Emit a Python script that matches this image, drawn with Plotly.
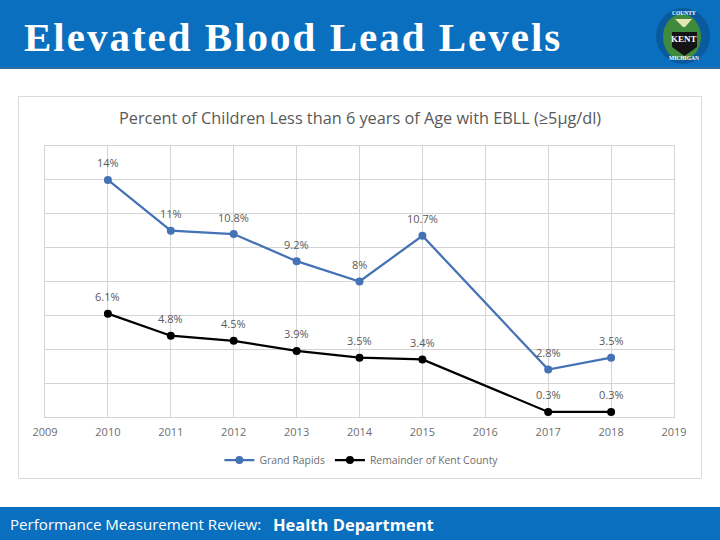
import plotly.graph_objects as go

years_gr = [2010, 2011, 2012, 2013, 2014, 2015, 2017, 2018]
grand_rapids = [14, 11, 10.8, 9.2, 8, 10.7, 2.8, 3.5]
gr_labels = ["14%", "11%", "10.8%", "9.2%", "8%", "10.7%", "2.8%", "3.5%"]
years_rem = [2010, 2011, 2012, 2013, 2014, 2015, 2017, 2018]
remainder = [6.1, 4.8, 4.5, 3.9, 3.5, 3.4, 0.3, 0.3]
rem_labels = ["6.1%", "4.8%", "4.5%", "3.9%", "3.5%", "3.4%", "0.3%", "0.3%"]

L, R, T, B = 45, 674, 146, 417
W, H = 720, 540
def px(x): return (x - L) / (R - L)
def py(y): return (B - y) / (B - T)

BLUE = "#0A6FBE"
GRID = "#D4D4D4"
TXT = "#595959"

fig = go.Figure()
fig.add_trace(go.Scatter(x=years_gr, y=grand_rapids, name="Grand Rapids", mode="lines+markers",
    line=dict(color="#4472B4", width=2.25), marker=dict(color="#4472B4", size=8), cliponaxis=False))
fig.add_trace(go.Scatter(x=years_rem, y=remainder, name="Remainder of Kent County", mode="lines+markers",
    line=dict(color="#000000", width=2.25), marker=dict(color="#000000", size=8), cliponaxis=False))

def rect(x0, y0, x1, y1, fill, line=None, lw=1):
    return dict(type="rect", xref="paper", yref="paper", x0=px(x0), x1=px(x1), y0=py(y0), y1=py(y1),
                fillcolor=fill, line=dict(color=line or fill, width=lw if line else 0), layer="below")
def oval(cx, cy, rx, ry, fill):
    return dict(type="circle", xref="paper", yref="paper", x0=px(cx-rx), x1=px(cx+rx), y0=py(cy-ry), y1=py(cy+ry),
                fillcolor=fill, line=dict(width=0), layer="below")
def poly(points, fill):
    d = "M " + " L ".join(f"{px(a):.5f} {py(b):.5f}" for a, b in points) + " Z"
    return dict(type="path", xref="paper", yref="paper", path=d, fillcolor=fill, line=dict(width=0), layer="below")

shapes = [
    rect(0, 0, 720, 68, BLUE),
    rect(0, 67, 720, 69, "#2F6EA5"),
    rect(0, 507, 720, 540, BLUE),
    rect(18.5, 96.5, 701.5, 478.5, "#FFFFFF", "#DADADA", 1),
    oval(683, 36, 27, 28, "#0A5A9E"),
    oval(682, 37, 19, 23, "#3F8A3C"),
    poly([(672, 32), (697, 32), (697, 47), (684.5, 56), (672, 47)], "#141414"),
    poly([(675, 19), (692, 19), (685, 27), (683, 27)], "#E8E6B0"),
]

def note(x, y, text, size, color, family="Open Sans", bold=False, anchor="left"):
    return dict(xref="paper", yref="paper", x=px(x), y=py(y), text=f"<b>{text}</b>" if bold else text,
                showarrow=False, xanchor=anchor, yanchor="middle",
                font=dict(size=size, color=color, family=family))

annotations = [
    note(48, 37, "Elevated Blood Lead Levels", 41, "#FFFFFF", "Liberation Serif", True),
    note(360, 118, "Percent of Children Less than 6 years of Age with EBLL (≥5μg/dl)", 16.3, TXT, "Open Sans", False, "center"),
    note(8, 524, "Performance Measurement Review:", 15.1, "#FFFFFF", "Open Sans"),
    note(271, 524, "Health Department", 16.5, "#FFFFFF", "Open Sans", True),
    note(684, 39, "KENT", 9, "#FFFFFF", "Liberation Serif", True, "center"),
    note(684, 13, "COUNTY", 5.5, "#FFFFFF", "Liberation Serif", True, "center"),
    note(684, 58, "MICHIGAN", 5.5, "#FFFFFF", "Liberation Serif", True, "center"),
]
for xs, ys, labels in [(years_gr, grand_rapids, gr_labels), (years_rem, remainder, rem_labels)]:
    for a, b, t in zip(xs, ys, labels):
        annotations.append(dict(x=a, y=b, xref="x", yref="y", text=t, showarrow=False, yshift=17,
                                xanchor="center", yanchor="middle",
                                font=dict(size=11, color=TXT, family="Open Sans")))

fig.update_layout(
    width=W, height=H, autosize=False,
    margin=dict(l=L, r=W-R, t=T, b=H-B),
    paper_bgcolor="#FFFFFF", plot_bgcolor="rgba(0,0,0,0)",
    shapes=shapes, annotations=annotations,
    font=dict(family="Open Sans", color=TXT),
    xaxis=dict(range=[2009, 2019], dtick=1, tick0=2009, showgrid=True, gridcolor=GRID, gridwidth=1,
               linecolor=GRID, showline=True, ticks="", tickfont=dict(size=11, color="#6E6E6E"),
               zeroline=False, mirror=True, ticklabelstandoff=5),
    yaxis=dict(range=[0, 16], dtick=2, showgrid=True, gridcolor=GRID, gridwidth=1, showticklabels=False,
               ticks="", zeroline=False, linecolor=GRID, showline=True, mirror=True),
    legend=dict(orientation="h", x=0.503, xanchor="center", y=py(460), yanchor="middle",
                font=dict(size=10.4, color="#6E6E6E"), bgcolor="rgba(0,0,0,0)"),
    showlegend=True,
)
post = """
document.body.style.margin = '0';
document.body.style.overflow = 'hidden';
document.querySelectorAll('.annotation-text').forEach(function (n) {
  if (n.textContent.indexOf('Elevated') === 0) { n.style.letterSpacing = '2px'; }
});
"""
fig.write_html("out.html", post_script=post, config={"displayModeBar": False})
